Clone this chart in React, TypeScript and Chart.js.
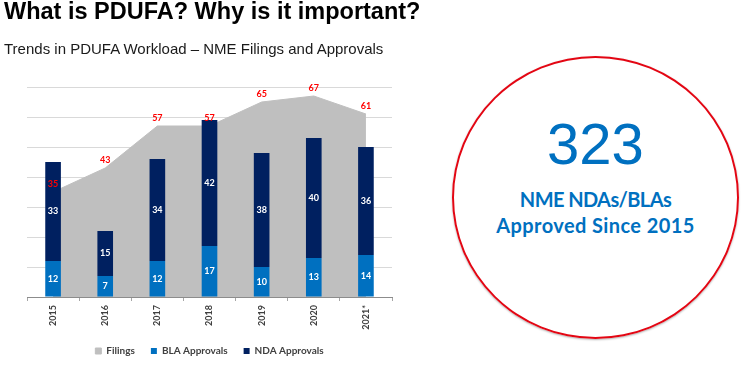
import React, { useEffect, useRef } from 'react';
import { Chart, registerables } from 'chart.js';

Chart.register(...registerables);

// ---- data ----
const years = ['2015', '2016', '2017', '2018', '2019', '2020', '2021*'];
const filings = [35, 43, 57, 57, 65, 67, 61];
const blaApprovals = [12, 7, 12, 17, 10, 13, 14];
const ndaApprovals = [33, 15, 34, 42, 38, 40, 36];
const yMin = 0;
const yMax = 70;
const yStep = 10;
const seriesNames = ['Filings', 'BLA Approvals', 'NDA Approvals'];
const titleText = 'What is PDUFA? Why is it important?';
const subtitleText = 'Trends in PDUFA Workload \u2013 NME Filings and Approvals';
const bigNumber = '323';
const calloutLines = ['NME NDAs/BLAs', 'Approved Since 2015'];

const valueLabels = {
  id: 'valueLabels',
  afterDatasetsDraw(chart: any) {
    const ctx = chart.ctx;
    ctx.save();
    ctx.textAlign = 'center';
    ctx.textBaseline = 'middle';
    chart.data.datasets.forEach((ds: any, i: number) => {
      const meta = chart.getDatasetMeta(i);
      meta.data.forEach((el: any, j: number) => {
        const v = ds.data[j];
        if (meta.type === 'bar') {
          const p = el.getProps(['x', 'y', 'base'], true);
          ctx.fillStyle = '#ffffff';
          ctx.font = 'bold 9px Lato';
          ctx.fillText(String(v), p.x, (p.y + p.base) / 2);
        } else {
          ctx.fillStyle = '#ff0000';
          ctx.font = 'bold 9px Lato';
          ctx.fillText(String(v), el.x, el.y - 8);
        }
      });
    });
    ctx.restore();
  },
};

export default function App() {
  const ref = useRef<HTMLCanvasElement>(null);

  useEffect(() => {
    const chart = new Chart(ref.current as HTMLCanvasElement, {
      type: 'bar',
      data: {
        labels: years,
        datasets: [
          {
            type: 'line',
            label: seriesNames[0],
            data: filings,
            backgroundColor: '#bfbfbf',
            borderColor: '#bfbfbf',
            borderWidth: 1,
            fill: 'origin',
            pointRadius: 0,
            tension: 0,
            stack: 'filings',
            order: 2,
          } as any,
          {
            type: 'bar',
            label: seriesNames[1],
            data: blaApprovals,
            backgroundColor: '#0070c0',
            stack: 'approvals',
            order: 1,
            barPercentage: 0.3,
            categoryPercentage: 1,
          },
          {
            type: 'bar',
            label: seriesNames[2],
            data: ndaApprovals,
            backgroundColor: '#002060',
            stack: 'approvals',
            order: 1,
            barPercentage: 0.3,
            categoryPercentage: 1,
          },
        ],
      },
      options: {
        responsive: false,
        animation: false,
        layout: { padding: { left: 27, right: 38, top: 87, bottom: 0 } },
        scales: {
          x: {
            stacked: true,
            offset: true,
            grid: {
              offset: true,
              drawOnChartArea: false,
              drawTicks: true,
              tickLength: 4,
              color: '#a6a6a6',
            },
            border: { display: true, color: '#8c8c8c' },
            ticks: {
              minRotation: 90,
              maxRotation: 90,
              padding: 4,
              autoSkip: false,
              color: '#404040',
              font: { family: 'Lato', weight: 'bold', size: 9 },
            },
            afterFit: (s: any) => {
              s.height = 33;
            },
          },
          y: {
            stacked: true,
            min: yMin,
            max: yMax,
            ticks: { display: false, stepSize: yStep },
            grid: { color: '#d9d9d9', drawTicks: false },
            border: { display: false },
          },
        },
        plugins: {
          legend: {
            position: 'bottom',
            labels: {
              boxWidth: 6,
              boxHeight: 6,
              padding: 16,
              color: '#404040',
              font: { family: 'Lato', weight: 'bold', size: 10 },
              sort: (a: any, b: any) => a.datasetIndex - b.datasetIndex,
            },
          },
          tooltip: { enabled: false },
        },
      } as any,
      plugins: [valueLabels],
    });
    return () => chart.destroy();
  }, []);

  return (
    <div
      style={{
        position: 'fixed',
        left: 0,
        top: 0,
        width: 752,
        height: 366,
        background: '#ffffff',
        overflow: 'hidden',
      }}
    >
      <canvas
        ref={ref}
        width={430}
        height={366}
        style={{ position: 'absolute', left: 0, top: 0, width: 430, height: 366 }}
      />
      <div
        style={{
          position: 'absolute',
          left: 4,
          top: 0.3,
          font: 'bold 23.5px "Liberation Sans", Arial, sans-serif',
          lineHeight: '23.5px',
          color: '#000000',
          whiteSpace: 'nowrap',
        }}
      >
        {titleText}
      </div>
      <div
        style={{
          position: 'absolute',
          left: 4,
          top: 40.6,
          font: '15px "Liberation Sans", Arial, sans-serif',
          lineHeight: '15px',
          color: '#1a1a1a',
          whiteSpace: 'nowrap',
        }}
      >
        {subtitleText}
      </div>
      <div
        style={{
          position: 'absolute',
          left: 452,
          top: 56,
          width: 287,
          height: 283,
          boxSizing: 'border-box',
          border: '2px solid #e30613',
          borderRadius: '50%',
          boxShadow: '0 1px 2px rgba(0,0,0,0.3)',
        }}
      />
      <div
        style={{
          position: 'absolute',
          left: 495.5,
          width: 200,
          top: 114.9,
          textAlign: 'center',
          font: '58px "Liberation Sans", Arial, sans-serif',
          lineHeight: '58px',
          color: '#0070c0',
          whiteSpace: 'nowrap',
        }}
      >
        {bigNumber}
      </div>
      <div
        style={{
          position: 'absolute',
          left: 475.5,
          width: 240,
          top: 189,
          textAlign: 'center',
          font: 'bold 20px Lato, sans-serif',
          lineHeight: '20px',
          letterSpacing: '-0.6px',
          color: '#0070c0',
          whiteSpace: 'nowrap',
        }}
      >
        {calloutLines[0]}
      </div>
      <div
        style={{
          position: 'absolute',
          left: 475.5,
          width: 240,
          top: 215.3,
          textAlign: 'center',
          font: 'bold 20px Lato, sans-serif',
          lineHeight: '20px',
          letterSpacing: '0.4px',
          color: '#0070c0',
          whiteSpace: 'nowrap',
        }}
      >
        {calloutLines[1]}
      </div>
    </div>
  );
}
